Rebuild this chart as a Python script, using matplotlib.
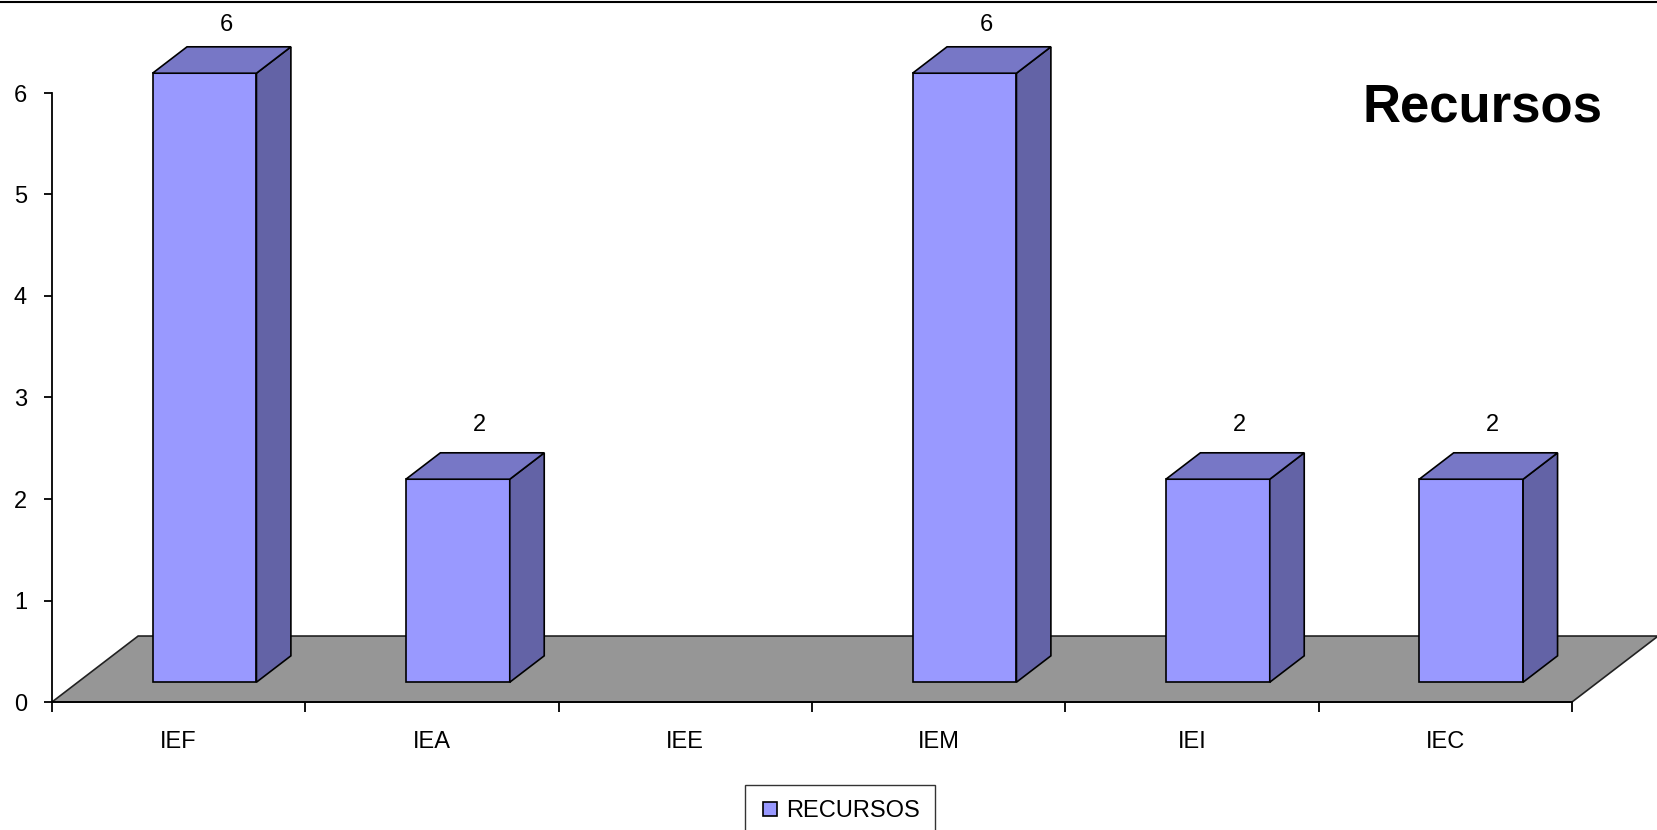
import numpy as np
import matplotlib
matplotlib.use('Agg')
import matplotlib.pyplot as plt
from matplotlib.patches import Polygon, Rectangle
from matplotlib.lines import Line2D

plt.rcParams['font.family'] = ['Liberation Sans', 'DejaVu Sans']

# data
categories = ['IEF', 'IEA', 'IEE', 'IEM', 'IEI', 'IEC']
recursos = [6, 2, np.nan, 6, 2, 2]
y_ticks = [0, 1, 2, 3, 4, 5, 6]

# colours of the 3d look
front_col = '#9999FF'
top_col = '#7777C6'
side_col = '#6363A6'
floor_col = '#969696'

fig = plt.figure(figsize=(16.57, 8.30), dpi=100)
ax = fig.add_axes([52 / 1657, (830 - 702) / 830, 1520 / 1657, 609 / 830])

# depth of floor in data units (x: category units, y: value units)
fdx, fdy = 0.34, 0.65
bar_w = 0.41
d0, d1 = 0.3, 0.7  # bar sits between these fractions of the floor depth

n = len(categories)
floor = Polygon([(0, 0), (n, 0), (n + fdx, fdy), (fdx, fdy)], closed=True,
                facecolor=floor_col, edgecolor='#222222', linewidth=1.2,
                clip_on=False, zorder=1)
ax.add_patch(floor)

for i, v in enumerate(recursos):
    if np.isnan(v):
        continue
    x0 = i + 0.5 - bar_w / 2 + d0 * fdx
    y0 = d0 * fdy
    ddx = (d1 - d0) * fdx
    ddy = (d1 - d0) * fdy
    front = Rectangle((x0, y0), bar_w, v, facecolor=front_col,
                      edgecolor='black', linewidth=1.2, clip_on=False, zorder=3)
    side = Polygon([(x0 + bar_w, y0), (x0 + bar_w + ddx, y0 + ddy),
                    (x0 + bar_w + ddx, y0 + ddy + v), (x0 + bar_w, y0 + v)],
                   closed=True, facecolor=side_col, edgecolor='black',
                   linewidth=1.2, clip_on=False, zorder=3)
    top = Polygon([(x0, y0 + v), (x0 + bar_w, y0 + v),
                   (x0 + bar_w + ddx, y0 + v + ddy), (x0 + ddx, y0 + v + ddy)],
                  closed=True, facecolor=top_col, edgecolor='black',
                  linewidth=1.2, clip_on=False, zorder=3)
    ax.add_patch(front)
    ax.add_patch(side)
    ax.add_patch(top)
    ax.annotate(f'{v:g}', (i + 0.5 + 0.5 * fdx, v + d1 * fdy),
                xytext=(3, 11.5 + (6 - v) * 1.0), textcoords='offset points',
                ha='center', va='baseline', fontsize=17, annotation_clip=False)

ax.set_xlim(0, n)
ax.set_ylim(0, 6)

# ticks at category borders, labels at centres
ax.set_xticks(np.arange(n + 1))
ax.set_xticklabels([])
ax.set_xticks(np.arange(n) + 0.5, minor=True)
ax.set_xticklabels(categories, minor=True, fontsize=17)
ax.tick_params(axis='x', which='major', direction='out', length=7, width=1.3)
ax.tick_params(axis='x', which='minor', length=0, pad=21)
ax.set_yticks(y_ticks)
ax.set_yticklabels([str(t) for t in y_ticks], fontsize=17)
ax.tick_params(axis='y', direction='out', length=6, width=1.3, pad=12)

for s in ['top', 'right']:
    ax.spines[s].set_visible(False)
ax.spines['left'].set_linewidth(1.3)
ax.spines['left'].set_zorder(4)
ax.spines['bottom'].set_linewidth(1.3)
ax.patch.set_visible(False)

fig.text(1602 / 1657, (830 - 122) / 830, 'Recursos', ha='right', va='baseline',
         fontsize=38, fontweight='bold')

# top border of the chart area
fig.add_artist(Line2D([0, 1], [1 - 2 / 830, 1 - 2 / 830], color='black',
                      linewidth=1.5))

handle = Line2D([], [], marker='s', linestyle='none', markersize=10,
                markerfacecolor=front_col, markeredgecolor='black',
                markeredgewidth=1.2)
leg = fig.legend([handle], ['RECURSOS'], loc='upper left',
                 bbox_to_anchor=(745 / 1657, 1 - 785 / 830), fontsize=17,
                 frameon=True, fancybox=False, edgecolor='black',
                 borderpad=0.65, handlelength=0.85, handletextpad=0.25,
                 borderaxespad=0)
leg.get_frame().set_linewidth(1.0)

plt.savefig('out.png', dpi=100)
